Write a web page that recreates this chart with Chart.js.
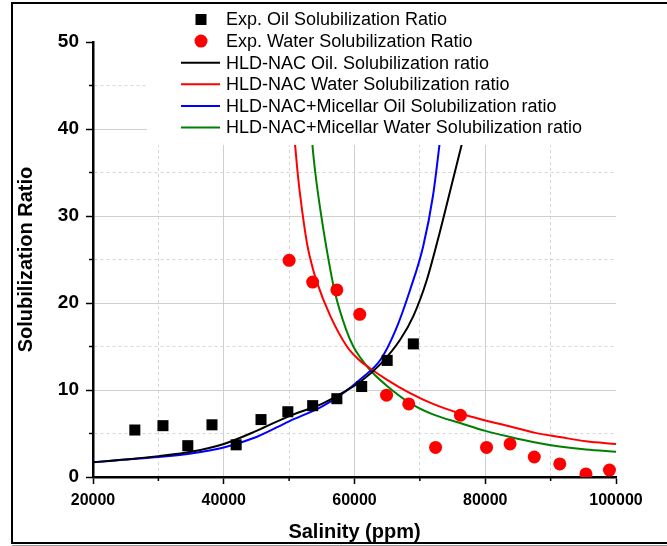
<!DOCTYPE html>
<html>
<head>
<meta charset="utf-8">
<script src="https://cdn.jsdelivr.net/npm/chart.js@4/dist/chart.umd.min.js"></script>
<style>
  body { margin: 0; background: #fff; }
  #wrap { width: 667px; height: 546px; }
</style>
</head>
<body>
<div id="wrap"><canvas id="chart" width="667" height="546"></canvas></div>
<script>
// experimental points
const oilX = [26400, 30700, 34500, 38200, 41900, 45700, 49800, 53600, 57300, 61100, 65000, 69000];
const oilY = [5.4, 5.9, 3.6, 6.0, 3.7, 6.6, 7.5, 8.2, 9.0, 10.4, 13.4, 15.3];
const waterX = [50000, 53600, 57300, 60800, 64900, 68300, 72400, 76200, 80200, 83800, 87500, 91400, 95400, 99000];
const waterY = [24.9, 22.4, 21.5, 18.7, 9.4, 8.4, 3.4, 7.1, 3.4, 3.8, 2.3, 1.5, 0.35, 0.8];

// model curves
const nacOilX = [20000, 25000, 30000, 35000, 40000, 45000, 50000, 55000, 58000, 61000, 64000, 67000, 69000, 71000, 73000, 75000, 77000];
const nacOilY = [1.7, 2.0, 2.4, 2.9, 3.8, 5.3, 7.0, 8.4, 9.6, 11.0, 13.0, 15.8, 18.5, 22.5, 28, 34, 40];
const nacWaterX = [50600, 50900, 51300, 51700, 52700, 53400, 54250, 56240, 58840, 60500, 62370, 64930, 68350, 72000, 76160, 80030, 83830, 87500, 91380, 95400, 100000];
const nacWaterY = [40, 38.2, 35.0, 32.3, 27.0, 24.6, 22.4, 18.6, 15.0, 13.6, 12.5, 11.2, 9.7, 8.4, 7.3, 6.5, 5.8, 5.1, 4.6, 4.1, 3.8];
const micOilX = [20000, 25000, 30000, 35000, 40000, 45000, 50000, 55000, 58000, 61000, 64000, 66300, 68500, 70500, 72000, 73000, 73600];
const micOilY = [1.7, 2.0, 2.3, 2.7, 3.4, 4.6, 6.4, 8.1, 9.5, 11.3, 13.5, 16.9, 21.5, 26.5, 32.3, 38.2, 42];
const micWaterX = [53400, 53560, 54000, 54720, 55740, 57010, 58690, 59820, 61000, 62370, 64930, 68500, 72000, 76160, 80030, 83830, 87500, 91380, 95400, 100000];
const micWaterY = [40, 38.2, 35.0, 31.0, 26.2, 21.2, 17.0, 15.0, 13.6, 12.3, 10.5, 8.5, 7.2, 6.2, 5.3, 4.6, 4.0, 3.5, 3.15, 2.9];

const xTicks = [20000, 40000, 60000, 80000, 100000];
const yTicks = [0, 10, 20, 30, 40, 50];

const pts = (xs, ys) => xs.map((x, i) => ({ x: x, y: ys[i] }));
const isMajorX = v => xTicks.includes(v);
const isMajorY = v => yTicks.includes(v);

function lineSet(label, xs, ys, color) {
  return {
    type: 'line', label: label, data: pts(xs, ys),
    borderColor: color, backgroundColor: color, borderWidth: 2,
    pointRadius: 0, tension: 0.4, cubicInterpolationMode: 'monotone', fill: false
  };
}

// legend drawn inside the plot, on a white box that hides what is behind
const insideLegend = {
  id: 'insideLegend',
  afterDraw(chart) {
    const ctx = chart.ctx;
    ctx.save();
    ctx.fillStyle = '#fff';
    ctx.fillRect(147, 4, 500, 141);
    ctx.font = '18px "Liberation Sans", Arial, sans-serif';
    ctx.textBaseline = 'middle';
    ctx.textAlign = 'left';
    chart.data.datasets.forEach((ds, i) => {
      const y = 19.5 + i * 21.6;
      ctx.fillStyle = ds.borderColor;
      ctx.strokeStyle = ds.borderColor;
      if (ds.type === 'scatter') {
        ctx.beginPath();
        if (ds.pointStyle === 'rect') ctx.rect(195.5, y - 5.5, 11, 11);
        else ctx.arc(201, y, 6.5, 0, Math.PI * 2);
        ctx.fill();
      } else {
        ctx.lineWidth = 2;
        ctx.beginPath(); ctx.moveTo(181, y); ctx.lineTo(220, y); ctx.stroke();
      }
      ctx.fillStyle = '#000';
      ctx.fillText(ds.label, 226, y + 1);
    });
    // minor ticks
    const xs = chart.scales.x, ys = chart.scales.y;
    ctx.strokeStyle = '#000';
    ctx.lineWidth = 1.5;
    ctx.beginPath();
    xs.ticks.forEach(t => {
      if (!isMajorX(t.value)) {
        const px = xs.getPixelForValue(t.value);
        ctx.moveTo(px, ys.bottom); ctx.lineTo(px, ys.bottom + 4);
      }
    });
    ys.ticks.forEach(t => {
      if (!isMajorY(t.value)) {
        const py = ys.getPixelForValue(t.value);
        ctx.moveTo(xs.left, py); ctx.lineTo(xs.left - 4, py);
      }
    });
    ctx.stroke();
    // outer frame
    ctx.strokeStyle = '#000';
    ctx.lineWidth = 2;
    ctx.beginPath();
    ctx.moveTo(667, 3); ctx.lineTo(12, 3); ctx.lineTo(12, 543); ctx.lineTo(667, 543);
    ctx.stroke();
    ctx.strokeStyle = '#999';
    ctx.lineWidth = 1;
    ctx.beginPath(); ctx.moveTo(12, 545.5); ctx.lineTo(667, 545.5); ctx.stroke();
    ctx.restore();
  }
};

new Chart(document.getElementById('chart'), {
  type: 'scatter',
  data: {
    datasets: [
      { type: 'scatter', label: 'Exp. Oil Solubilization Ratio', data: pts(oilX, oilY),
        pointStyle: 'rect', pointRadius: 7.8, borderWidth: 0, borderColor: '#000', backgroundColor: '#000' },
      { type: 'scatter', label: 'Exp. Water Solubilization Ratio', data: pts(waterX, waterY),
        pointStyle: 'circle', pointRadius: 6.5, borderWidth: 0, borderColor: '#ff0000', backgroundColor: '#ff0000' },
      lineSet('HLD-NAC Oil. Solubilization ratio', nacOilX, nacOilY, '#000000'),
      lineSet('HLD-NAC Water Solubilization ratio', nacWaterX, nacWaterY, '#ff0000'),
      lineSet('HLD-NAC+Micellar Oil Solubilization ratio', micOilX, micOilY, '#0000ff'),
      lineSet('HLD-NAC+Micellar Water Solubilization ratio', micWaterX, micWaterY, '#008000')
    ]
  },
  options: {
    responsive: false,
    animation: false,
    layout: { padding: { left: 12, top: 42, right: 51, bottom: 2 } },
    plugins: { legend: { display: false }, tooltip: { enabled: false } },
    scales: {
      x: {
        type: 'linear', min: 20000, max: 100000,
        afterFit: s => { s.height = 67; },
        ticks: {
          stepSize: 10000, autoSkip: false, maxRotation: 0, padding: 7, color: '#000',
          font: { family: '"Liberation Sans", Arial, sans-serif', size: 16, weight: 'bold' },
          callback: v => isMajorX(v) ? String(v) : ''
        },
        grid: {
          color: c => (!c.tick || c.tick.value === 100000) ? 'rgba(0,0,0,0)' : (isMajorX(c.tick.value) ? '#cfcfcf' : '#d6d6d6'),
          lineWidth: 1, tickLength: 7, tickWidth: 1.5,
          tickColor: c => (c.tick && isMajorX(c.tick.value)) ? '#000' : 'rgba(0,0,0,0)'
        },
        border: { color: '#000', width: 2.5, dash: c => (c.tick && !isMajorX(c.tick.value)) ? [3, 3] : [] },
        title: { display: true, text: 'Salinity (ppm)', color: '#000', padding: { top: 0, bottom: 0 },
          font: { family: '"Liberation Sans", Arial, sans-serif', size: 20, weight: 'bold' } }
      },
      y: {
        min: 0, max: 50,
        afterFit: s => { s.width = 81; },
        ticks: {
          stepSize: 5, autoSkip: false, padding: 7, color: '#000',
          font: { family: '"Liberation Sans", Arial, sans-serif', size: 19, weight: 'bold' },
          callback: v => isMajorY(v) ? String(v) : ''
        },
        grid: {
          color: c => (!c.tick || c.tick.value === 50) ? 'rgba(0,0,0,0)' : (isMajorY(c.tick.value) ? '#cfcfcf' : '#d6d6d6'),
          lineWidth: 1, tickLength: 7, tickWidth: 1.5,
          tickColor: c => (c.tick && isMajorY(c.tick.value)) ? '#000' : 'rgba(0,0,0,0)'
        },
        border: { color: '#000', width: 2.5, dash: c => (c.tick && !isMajorY(c.tick.value)) ? [3, 3] : [] },
        title: { display: true, text: 'Solubilization Ratio', color: '#000', padding: { top: 2, bottom: 0 },
          font: { family: '"Liberation Sans", Arial, sans-serif', size: 20, weight: 'bold' } }
      }
    }
  },
  plugins: [insideLegend]
});
</script>
</body>
</html>
